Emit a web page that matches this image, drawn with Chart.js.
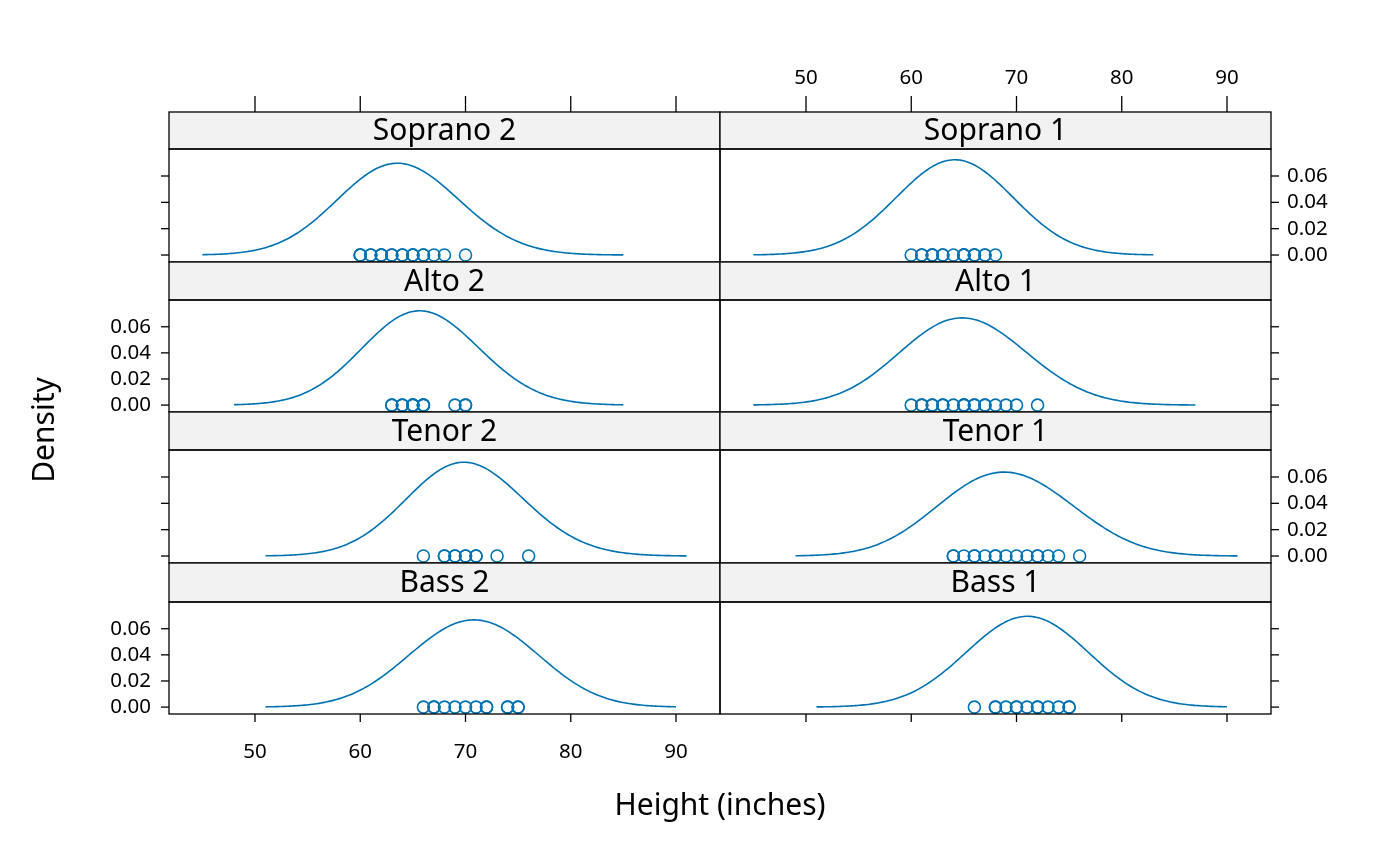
<!DOCTYPE html>
<html><head><meta charset="utf-8">
<script src="https://cdn.jsdelivr.net/npm/chart.js@4"></script>
<style>body{margin:0;background:#fff;width:1400px;height:866px;overflow:hidden;font-family:"Noto Sans",sans-serif}
canvas{position:absolute;left:0;top:0}</style></head><body>
<script>
const panelNames=["Soprano 2","Soprano 1","Alto 2","Alto 1","Tenor 2","Tenor 1","Bass 2","Bass 1"];
const soprano2=[60,60,60,61,61,62,62,62,63,63,64,64,65,65,65,66,66,67,68,70];
const soprano1=[60,61,61,62,62,62,63,63,64,65,65,65,65,66,66,66,67,67,68];
const alto2=[63,63,64,64,65,65,65,66,66,66,69,70,70];
const alto1=[60,61,61,62,62,63,63,64,65,65,65,66,66,67,67,68,69,70,72];
const tenor2=[66,68,68,69,69,70,70,71,71,73,76];
const tenor1=[64,64,65,66,66,67,68,68,69,70,71,72,72,73,74,76];
const bass2=[66,67,67,68,69,70,71,72,72,74,74,75,75];
const bass1=[66,68,68,69,70,70,71,72,72,73,74,75,75];
const panelData=[soprano2,soprano1,alto2,alto1,tenor2,tenor1,bass2,bass1];
const bandwidth=5;
const xTicks=[50,60,70,80,90];
const yTicks=[0,0.02,0.04,0.06];

const col=['#0072B2'];
const rowsY=[[112,149,262],[262,300,412],[412,450,563],[563,602,714]];
const colsX=[[169,720],[720,1271]];
function kde(d){const out=[];const lo=Math.min(...d)-3*bandwidth,hi=Math.max(...d)+3*bandwidth;
 for(let i=0;i<=200;i++){const x=lo+(hi-lo)*i/200;let s=0;for(const v of d){const z=(x-v)/bandwidth;s+=Math.exp(-z*z/2);}
 out.push({x,y:s/(d.length*bandwidth*Math.sqrt(2*Math.PI))});}return out;}
const FONT='20.5px "Noto Sans"';
panelNames.forEach((name,i)=>{
 const r=Math.floor(i/2),c=i%2;const [sy,py,by]=rowsY[r];const [lx,rx]=colsX[c];
 const cv=document.createElement('canvas');cv.width=1400;cv.height=866;document.body.appendChild(cv);
 const deco={id:'deco',afterDraw(ch){const g=ch.ctx,xs=ch.scales.x,ys=ch.scales.y;g.save();
  g.fillStyle='#f2f2f2';g.fillRect(lx,sy,rx-lx,py-sy);g.strokeStyle='#000';g.lineWidth=1.3;
  g.strokeRect(lx,sy,rx-lx,py-sy);g.strokeRect(lx,py,rx-lx,by-py);
  g.fillStyle='#000';g.font='30px "Noto Sans"';g.textAlign='center';g.textBaseline='middle';g.fillText(name,(lx+rx)/2,(sy+py)/2+1);
  g.font=FONT;g.lineWidth=1.3;
  if(r===0){xTicks.forEach(t=>{const x=xs.getPixelForValue(t);g.beginPath();g.moveTo(x,sy);g.lineTo(x,sy-16);g.stroke();
   if(c===1){g.textBaseline='bottom';g.fillText(String(t),x,sy-24);}});}
  if(r===3){xTicks.forEach(t=>{const x=xs.getPixelForValue(t);g.beginPath();g.moveTo(x,by);g.lineTo(x,by+8);g.stroke();
   if(c===0){g.textBaseline='top';g.fillText(String(t),x,by+28);}});}
  yTicks.forEach(t=>{const y=ys.getPixelForValue(t);g.textBaseline='middle';
   if(c===0){g.beginPath();g.moveTo(lx,y);g.lineTo(lx-8,y);g.stroke();if(r%2===1){g.textAlign='right';g.fillText(t.toFixed(2),151,y);}}
   else{g.beginPath();g.moveTo(rx,y);g.lineTo(rx+8,y);g.stroke();if(r%2===0){g.textAlign='left';g.fillText(t.toFixed(2),1287,y);}}});
  if(i===0){g.textAlign='center';g.font='30px "Noto Sans"';g.fillText('Height (inches)',720,806);
   g.translate(45,430);g.rotate(-Math.PI/2);g.fillText('Density',0,0);}
  g.restore();}};
 new Chart(cv,{type:'scatter',data:{datasets:[
  {type:'line',data:kde(panelData[i]),borderColor:col[0],borderWidth:1.6,pointRadius:0,tension:0},
  {data:panelData[i].map(v=>({x:v,y:0})),borderColor:col[0],backgroundColor:'rgba(0,0,0,0)',pointRadius:6,borderWidth:1.6}]},
  options:{responsive:false,animation:false,devicePixelRatio:1,layout:{padding:{left:lx,right:1400-rx,top:py,bottom:866-by}},
   plugins:{legend:{display:false},tooltip:{enabled:false}},
   scales:{x:{type:'linear',min:41.83,max:94.18,display:false},y:{min:-0.0053,max:0.0805,display:false}}},plugins:[deco]});
});
</script></body></html>
